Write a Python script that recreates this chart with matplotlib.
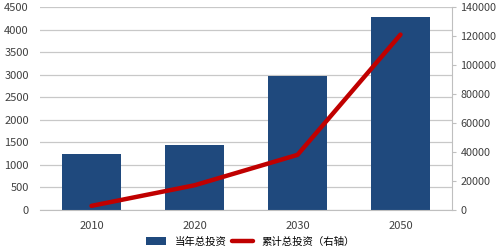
import matplotlib

matplotlib.use("Agg")
import matplotlib.pyplot as plt
import numpy as np

plt.rcParams["font.family"] = ["Noto Sans CJK SC", "DejaVu Sans"]

years = ["2010", "2020", "2030", "2050"]
annual_invest = [1230, 1440, 2960, 4270]
cumulative_invest = [2800, 17000, 38000, 121000]

fig = plt.figure(figsize=(5.0, 2.52), dpi=100)
ax = fig.add_axes([0.08, 0.167, 0.824, 0.805])
x = np.arange(len(years))

bars = ax.bar(x, annual_invest, width=0.57, color="#1F497D", zorder=2,
              label="当年总投资")
ax.set_ylim(0, 4500)
ax.set_yticks(np.arange(0, 4501, 500))
ax.set_xlim(-0.5, len(years) - 0.5)
ax.set_xticks(x)
ax.set_xticklabels(years)
ax.grid(axis="y", color="#C8C8C8", lw=0.9, zorder=0)
for s in ("left", "top", "right"):
    ax.spines[s].set_visible(False)
ax.spines["bottom"].set_color("#BFBFBF")
ax.tick_params(axis="both", length=0, labelsize=8, colors="#404040")
ax.tick_params(axis="y", pad=8)
ax.tick_params(axis="x", pad=8)

ax2 = ax.twinx()
line, = ax2.plot(x, cumulative_invest, color="#C00000", lw=3.2,
                 solid_capstyle="round", label="累计总投资（右轴）")
ax2.set_ylim(0, 140000)
ax2.set_yticks(np.arange(0, 140001, 20000))
for s in ("left", "top", "bottom"):
    ax2.spines[s].set_visible(False)
ax2.spines["right"].set_color("#BFBFBF")
ax2.tick_params(axis="y", length=3, color="#BFBFBF", labelsize=7.8,
                colors="#404040", pad=3)

fig.legend([bars, line], ["当年总投资", "累计总投资（右轴）"],
           loc="center", bbox_to_anchor=(0.5, 0.042), ncol=2, frameon=False,
           fontsize=7.5, handlelength=2.0, columnspacing=0.5)

fig.savefig("out.png", dpi=100)
